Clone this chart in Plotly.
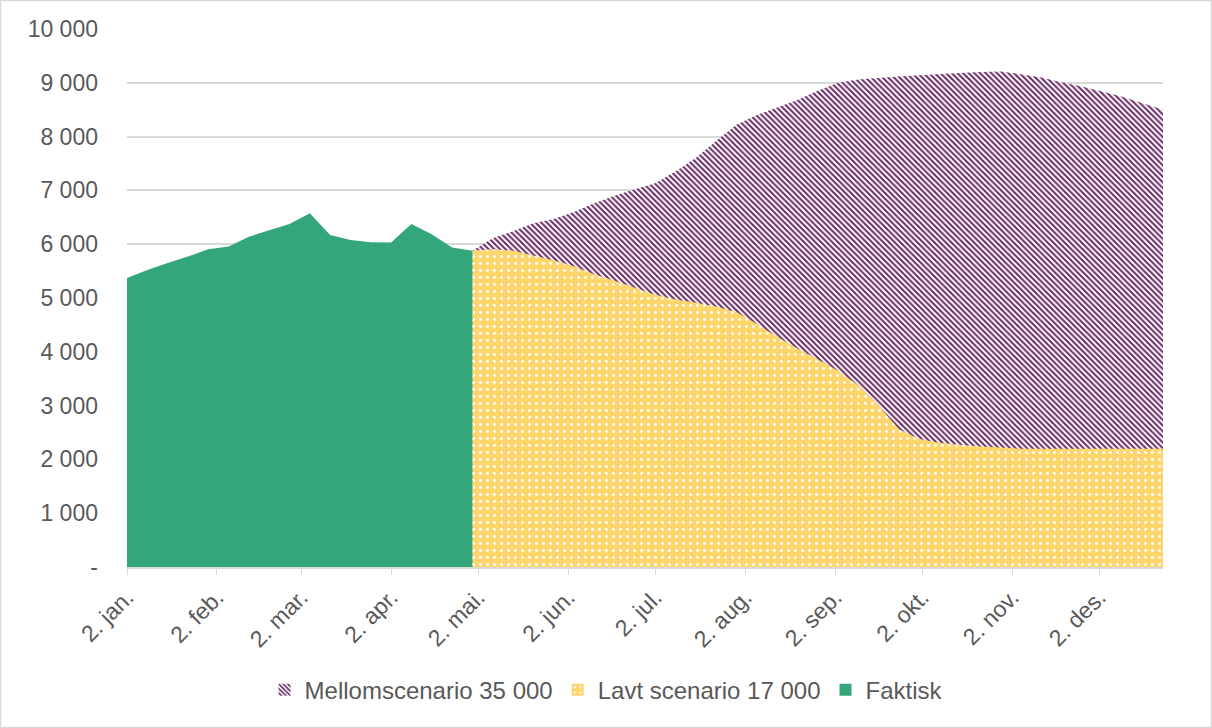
import pandas as pd
import plotly.graph_objects as go

# weekly observations, starting 2. jan. 2020
weeks = pd.date_range("2020-01-02", periods=52, freq="7D")

faktisk = [5370, 5520, 5650, 5770, 5905, 5955, 6140, 6260, 6375, 6575,
           6170, 6080, 6035, 6030, 6375, 6185, 5940, 5880]

# scenarios start at the last observed week (index 17)
lavt = [5880, 5905, 5880, 5790, 5700, 5590, 5440, 5320, 5190, 5060,
        4970, 4910, 4840, 4740, 4520, 4280, 4060, 3860, 3650, 3380,
        3000, 2560, 2380, 2310, 2270, 2240, 2220, 2200, 2200, 2200,
        2200, 2200, 2200, 2200, 2200]

mellom = [5880, 6110, 6240, 6390, 6470, 6600, 6760, 6900, 7020, 7135,
          7350, 7600, 7920, 8220, 8400, 8540, 8680, 8850, 9000, 9060,
          9090, 9115, 9140, 9165, 9180, 9200, 9210, 9160, 9100, 9010,
          8930, 8840, 8740, 8620, 8500]

month_ticks = pd.date_range("2020-01-01", periods=12, freq="MS") + pd.Timedelta(days=1)
month_labels = ["2. jan.", "2. feb.", "2. mar.", "2. apr.", "2. mai.", "2. jun.",
                "2. jul.", "2. aug.", "2. sep.", "2. okt.", "2. nov.", "2. des."]

y_ticks = list(range(0, 10001, 1000))
y_labels = ["-"] + [f"{v:,}".replace(",", " ") for v in y_ticks[1:]]

GREEN = "#33A77A"
YELLOW = "#FFD56E"
PURPLE = "#672B65"
GREY_TEXT = "#595959"
GRID = "#D9D9D9"

purple_pat = dict(shape="\\", fgcolor=PURPLE, bgcolor="white", size=4,
                  solidity=0.5, fgopacity=1)
yellow_pat = dict(shape=".", fgcolor="white", bgcolor=YELLOW, size=7,
                  solidity=0.14, fgopacity=1)

fig = go.Figure()

# areas (legend handled by the square entries below)
fig.add_trace(go.Scatter(
    x=weeks[17:], y=mellom, mode="none", fill="tozeroy",
    fillcolor=PURPLE, fillpattern=purple_pat,
    name="Mellomscenario 35 000", showlegend=False,
))
fig.add_trace(go.Scatter(
    x=weeks[17:], y=lavt, mode="none", fill="tozeroy",
    fillcolor=YELLOW, fillpattern=yellow_pat,
    name="Lavt scenario 17 000", showlegend=False,
))
fig.add_trace(go.Scatter(
    x=weeks[:18], y=faktisk, mode="none", fill="tozeroy",
    fillcolor=GREEN, name="Faktisk", showlegend=False,
))

# square legend keys like the original
fig.add_trace(go.Bar(x=[None], y=[None], name="Mellomscenario 35 000",
                     marker=dict(color="white", pattern=purple_pat, line_width=0)))
fig.add_trace(go.Bar(x=[None], y=[None], name="Lavt scenario 17 000",
                     marker=dict(color=YELLOW, pattern=yellow_pat, line_width=0)))
fig.add_trace(go.Bar(x=[None], y=[None], name="Faktisk",
                     marker=dict(color=GREEN, line_width=0)))

fig.update_layout(
    width=1212, height=728,
    margin=dict(l=127, r=49, t=29, b=161),
    plot_bgcolor="white", paper_bgcolor="white",
    font=dict(family="Liberation Sans, Arial", size=23, color=GREY_TEXT),
    showlegend=True,
    legend=dict(orientation="h", x=0.4624, xanchor="center",
                y=-0.229, yanchor="middle", font=dict(size=24),
                itemwidth=30, traceorder="normal"),
    hovermode=False,
)

fig.update_xaxes(
    range=[weeks[0], weeks[-1]],
    tickvals=month_ticks, ticktext=month_labels, tickangle=-45,
    ticks="outside", ticklen=6, tickcolor=GRID,
    showline=True, linecolor=GRID, linewidth=1.5,
    showgrid=False, zeroline=False,
)
fig.update_yaxes(
    range=[0, 10000],
    tickvals=y_ticks, ticktext=y_labels,
    showgrid=True, gridcolor=GRID, gridwidth=1.5,
    zeroline=False, showline=False, ticklabelstandoff=28,
)

# thin frame around the chart area
pw, ph = 1036, 538
fig.add_shape(
    type="rect", xref="paper", yref="paper",
    x0=-126.5 / pw, x1=1 + 48.5 / pw, y0=-160.5 / ph, y1=1 + 28.5 / ph,
    line=dict(color=GRID, width=1.5), fillcolor="rgba(0,0,0,0)", layer="below",
)

fig.write_html("out.html", config={"displayModeBar": False},
               post_script="document.body.style.margin='0px';")
